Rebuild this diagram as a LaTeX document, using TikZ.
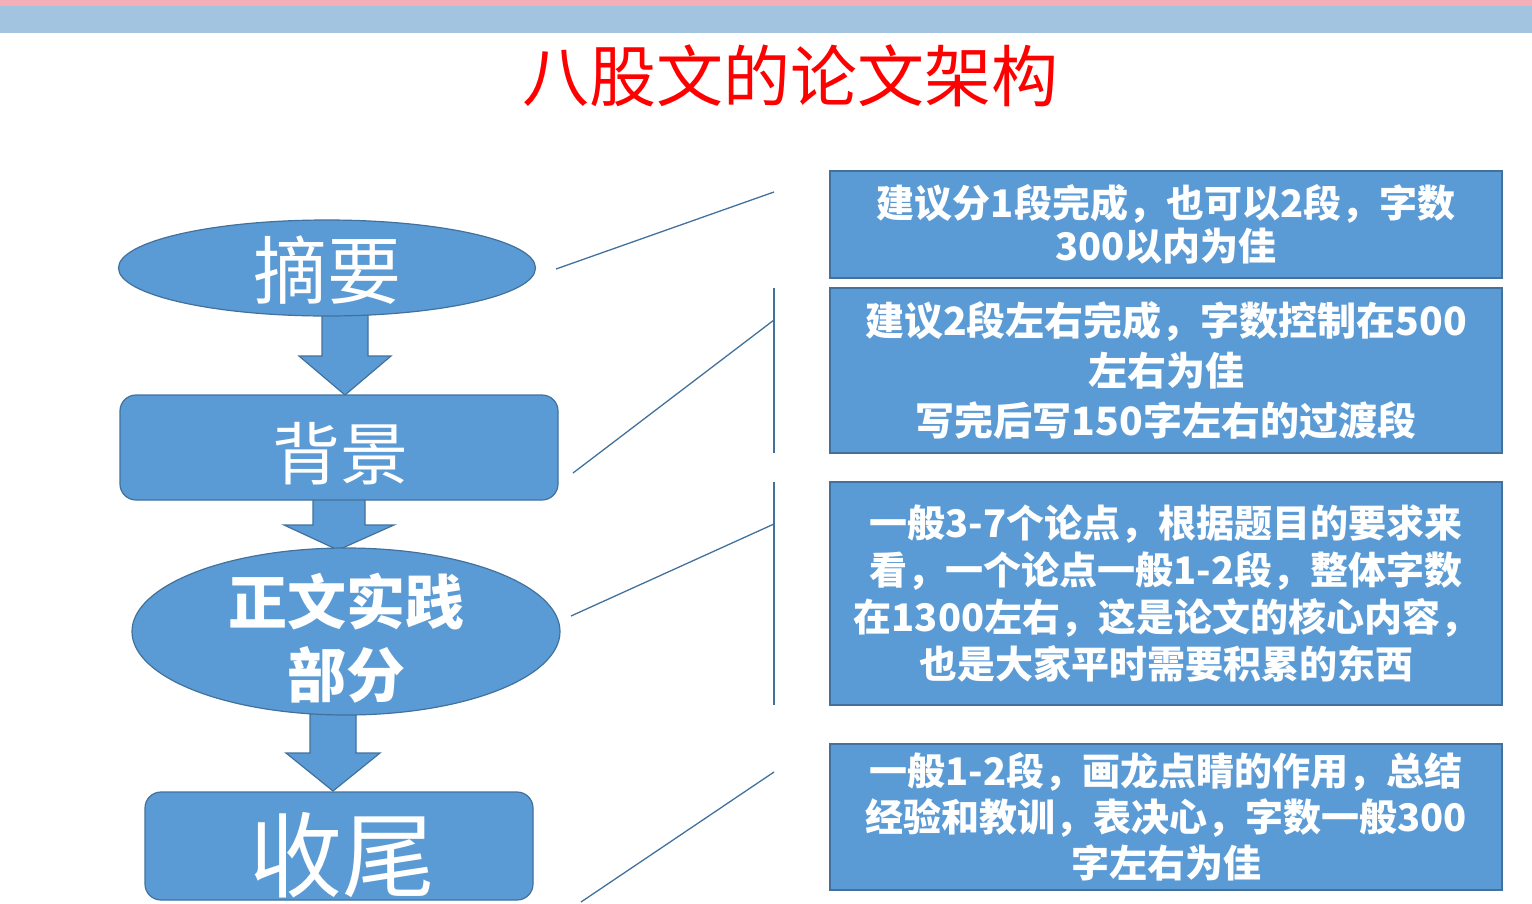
\documentclass[tikz,border=0pt]{standalone}
\usepackage{fontspec}
\setmainfont{Noto Sans CJK SC}
\usetikzlibrary{shapes.geometric}
\definecolor{boxfill}{HTML}{5B9BD5}
\definecolor{boxdraw}{HTML}{41719C}
\definecolor{bandblue}{HTML}{A2C4E0}
\definecolor{bandpink}{HTML}{F4B0B8}
\definecolor{titlered}{HTML}{FF0000}
\newcommand\blkarrow[7]{% cx, top, headY, tipY, shaftHalf, headHalf, tipX
  \filldraw[shapebox] (#1-#5,#2) -- (#1+#5,#2) -- (#1+#5,#3) -- (#1+#6,#3) -- (#7,#4) -- (#1-#6,#3) -- (#1-#5,#3) -- cycle;}
\begin{document}
\begin{tikzpicture}[x=1pt,y=-1pt,
  shapebox/.style={fill=boxfill,draw=boxdraw,line width=1.2pt},
  leftell/.style={shapebox,ellipse,inner sep=0pt},
  leftrect/.style={shapebox,rectangle,rounded corners=16pt,inner sep=0pt},
  lefttext/.style={text=white,inner sep=0pt,align=center},
  infobox/.style={shapebox,rectangle,inner sep=0pt,minimum width=672pt,text=white,align=center},
  conn/.style={draw=boxdraw,line width=1.3pt}]
\useasboundingbox (0,0) rectangle (1532,903);
% header band
\fill[bandpink] (0,0) rectangle (1532,6);
\fill[bandblue] (0,6) rectangle (1532,33);
% title
\node[text=titlered,inner sep=0pt,font=\fontsize{67}{70}\selectfont] (title) at (790,76) {八股文的论文架构};
% block arrows (drawn below shapes)
\blkarrow{345}{305}{356}{395}{23}{46}{345}
\blkarrow{339}{492}{525}{550}{26}{55}{338}
\blkarrow{333}{705}{753}{791}{23}{47}{333}
% left shapes
\node[leftell,minimum width=417pt,minimum height=96pt] (zy) at (327,268) {};
\node[leftrect,minimum width=438pt,minimum height=105pt] (bj) at (339,447.5) {};
\node[leftell,minimum width=428pt,minimum height=167pt] (zw) at (346,631.5) {};
\node[leftrect,minimum width=388pt,minimum height=108pt] (sw) at (339,846) {};
\node[lefttext,font=\fontsize{74}{78}\selectfont] (zyt) at (327,270) {摘要};
\node[lefttext,font=\fontsize{68}{72}\selectfont] (bjt) at (340,454) {背景};
\node[lefttext,font=\bfseries\fontsize{59}{73}\selectfont] (zwt) at (346,638) {正文实践\\部分};
\node[lefttext,font=\fontsize{93}{96}\selectfont] (swt) at (342,855) {收尾};
% right boxes
\node[infobox,minimum height=107pt,font=\bfseries\fontsize{38}{43}\selectfont] (b1) at (1166,224.5)
  {建议分1段完成，也可以2段，字数\\300以内为佳};
\node[infobox,minimum height=165pt,font=\bfseries\fontsize{39}{50}\selectfont] (b2) at (1166,370.5)
  {建议2段左右完成，字数控制在500\\左右为佳\\写完后写150字左右的过渡段};
\node[infobox,minimum height=223pt,font=\bfseries\fontsize{38}{47}\selectfont] (b3) at (1166,593.5)
  {一般3-7个论点，根据题目的要求来\\看，一个论点一般1-2段，整体字数\\在1300左右，这是论文的核心内容，\\也是大家平时需要积累的东西};
\node[infobox,minimum height=146pt,font=\bfseries\fontsize{38}{46}\selectfont] (b4) at (1166,817)
  {一般1-2段，画龙点睛的作用，总结\\经验和教训，表决心，字数一般300\\字左右为佳};
% connector lines
\coordinate (c1a) at (556,269);
\coordinate (c1b) at (774,192);
\coordinate (v1a) at (774,288);
\coordinate (v1b) at (774,453);
\coordinate (c2a) at (573,473);
\coordinate (c2b) at (774,320);
\coordinate (v2a) at (774,482);
\coordinate (v2b) at (774,705);
\coordinate (c3a) at (571,616);
\coordinate (c3b) at (774,524);
\coordinate (c4a) at (581,902);
\coordinate (c4b) at (774,772);
\draw[conn] (c1a) -- (c1b);
\draw[conn] (v1a) -- (v1b);
\draw[conn] (c2a) -- (c2b);
\draw[conn] (v2a) -- (v2b);
\draw[conn] (c3a) -- (c3b);
\draw[conn] (c4a) -- (c4b);
\end{tikzpicture}
\end{document}
